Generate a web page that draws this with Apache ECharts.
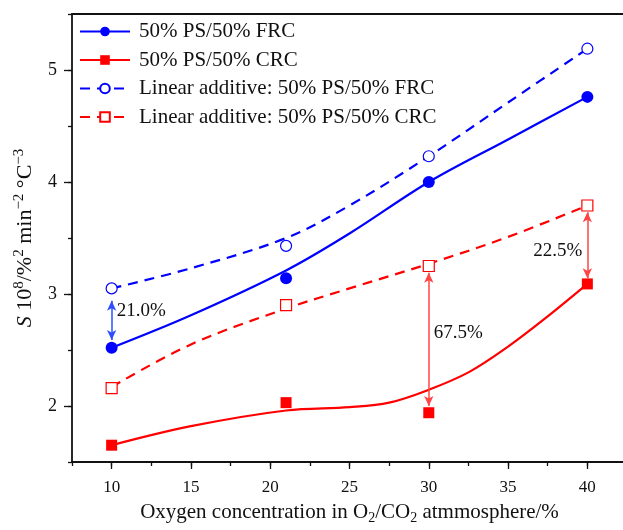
<!DOCTYPE html>
<html>
<head>
<meta charset="utf-8">
<script src="https://cdn.jsdelivr.net/npm/echarts@6/dist/echarts.min.js"></script>
<style>html,body{margin:0;padding:0;background:#fff;}#c{width:623px;height:530px;}</style>
</head>
<body>
<div id="c"></div>
<script>
// ---- data ----
const xPoints = [10, 21, 30, 40];
const frcMeasured = [2.52, 3.14, 4.00, 4.76];
const crcMeasured = [1.65, 2.03, 1.94, 3.09];
const frcLinear = [3.05, 3.43, 4.23, 5.19];
const crcLinear = [2.16, 2.90, 3.25, 3.79];

// fitted curves
const frcCurveX = [10, 15, 21, 25, 30, 35, 40];
const frcCurveY = [2.52, 2.81, 3.21, 3.54, 4.00, 4.38, 4.76];
const crcCurveX = [10, 15, 21, 25, 27.5, 30, 32.5, 35, 37.5, 40];
const crcCurveY = [1.65, 1.82, 1.96, 1.99, 2.03, 2.145, 2.30, 2.53, 2.80, 3.09];
const frcLinCurveX = [10, 15, 21, 25, 30, 35, 40];
const frcLinCurveY = [3.05, 3.23, 3.50, 3.79, 4.23, 4.71, 5.19];
const crcLinCurveX = [10, 15, 21, 25, 30, 35, 40];
const crcLinCurveY = [2.17, 2.55, 2.87, 3.05, 3.27, 3.51, 3.79];

// difference arrows: x, top y, bottom y
const arrowX = [10, 30, 40];
const arrowTop = [2.94, 3.19, 3.73];
const arrowBottom = [2.59, 2.00, 3.14];
const arrowColors = ['#2f4fff', '#ff4444', '#ff4444'];
const annotText = ['21.0%', '67.5%', '22.5%'];
const annotX = [10, 30, 40];
const annotY = [2.85, 2.65, 3.38];
const annotSide = ['right', 'right', 'left'];

const xLabels = [10, 15, 20, 25, 30, 35, 40];
const yLabels = [2, 3, 4, 5];

const names = ['50% PS/50% FRC', '50% PS/50% CRC', 'Linear additive: 50% PS/50% FRC', 'Linear additive: 50% PS/50% CRC'];

function zip(a, b) { return a.map((v, i) => [v, b[i]]); }

const FONT = 'Liberation Serif';
const BLUE = '#0000ff', RED = '#ff0000';

const chart = echarts.init(document.getElementById('c'), null, {renderer: 'canvas'});

const grid = {left: 72, top: 14, width: 555, height: 448, containLabel: false, outerBoundsMode: 'none'};

const series = [
  {name: names[0], type: 'line', data: zip(frcCurveX, frcCurveY), smooth: 0.35, symbol: 'circle', showSymbol: false,
   lineStyle: {color: BLUE, width: 2.2}, itemStyle: {color: BLUE}, z: 3, silent: true},
  {name: names[1], type: 'line', data: zip(crcCurveX, crcCurveY), smooth: 0.35, symbol: 'rect', showSymbol: false,
   lineStyle: {color: RED, width: 2.2}, itemStyle: {color: RED}, z: 3, silent: true},
  {name: names[2], type: 'line', data: zip(frcLinCurveX, frcLinCurveY), smooth: 0.35, symbol: 'circle', showSymbol: false,
   lineStyle: {color: BLUE, width: 2.2, type: [10, 7]}, itemStyle: {color: '#fff', borderColor: BLUE, borderWidth: 1.2}, z: 3, silent: true},
  {name: names[3], type: 'line', data: zip(crcLinCurveX, crcLinCurveY), smooth: 0.35, symbol: 'rect', showSymbol: false,
   lineStyle: {color: RED, width: 2.2, type: [10, 7]}, itemStyle: {color: '#fff', borderColor: RED, borderWidth: 1.2}, z: 3, silent: true},
  {name: names[0], type: 'scatter', data: zip(xPoints, frcMeasured), symbol: 'circle', symbolSize: 12,
   itemStyle: {color: BLUE, opacity: 1}, z: 5},
  {name: names[1], type: 'scatter', data: zip(xPoints, crcMeasured), symbol: 'rect', symbolSize: 11,
   itemStyle: {color: RED, opacity: 1}, z: 5},
  {name: names[2], type: 'scatter', data: zip(xPoints, frcLinear), symbol: 'circle', symbolSize: 11,
   itemStyle: {color: '#fff', borderColor: BLUE, borderWidth: 1.2, opacity: 1}, z: 5},
  {name: names[3], type: 'scatter', data: zip(xPoints, crcLinear), symbol: 'rect', symbolSize: 11,
   itemStyle: {color: '#fff', borderColor: RED, borderWidth: 1.2, opacity: 1}, z: 5},
  {name: 'arrows', type: 'line', data: [], z: 4,
   markLine: {
     silent: true, symbol: ['arrow', 'arrow'], symbolSize: [7, 10], animation: false,
     label: {show: false},
     data: arrowX.map((x, i) => [
       {coord: [x, arrowTop[i]], lineStyle: {color: arrowColors[i], width: 1.5, type: 'solid'}, itemStyle: {color: arrowColors[i]}},
       {coord: [x, arrowBottom[i]]}
     ])
   }},
  {name: 'annot', type: 'scatter', symbolSize: 0, z: 6, silent: true, itemStyle: {opacity: 1},
   data: annotX.map((x, i) => ({value: [x, annotY[i]], label: {show: true, position: annotSide[i], distance: 5,
     formatter: annotText[i], color: '#111', fontFamily: FONT, fontSize: 19}}))}
];

const option = {
  animation: false,
  backgroundColor: '#fff',
  grid: grid,
  legend: {
    data: names.map(n => ({name: n})),
    orient: 'vertical', left: 79, top: 21, padding: 0,
    itemWidth: 50, itemHeight: 12, itemGap: 7.5,
    selectedMode: false,
    textStyle: {fontFamily: FONT, fontSize: 21, color: '#111', padding: [0, 0, 0, 4]}
  },
  xAxis: [
    {type: 'value', min: 7.5, max: 42.5, interval: 2.5, position: 'bottom',
     name: '{s|Oxygen concentration in O}{sub|2}{s|/CO}{sub|2}{s| atmmosphere/%}',
     nameLocation: 'middle', nameGap: 37,
     nameTextStyle: {fontFamily: FONT, fontSize: 21, color: '#111',
       rich: {s: {fontFamily: FONT, fontSize: 21, color: '#111', lineHeight: 26, verticalAlign: 'middle'},
              sub: {fontFamily: FONT, fontSize: 14, color: '#111', lineHeight: 26, verticalAlign: 'bottom'}}},
     axisLine: {show: true, onZero: false, lineStyle: {color: '#111', width: 1.8}},
     axisTick: {show: true, length: 4, inside: false, lineStyle: {color: '#111', width: 1.3}},
     axisLabel: {show: true, customValues: xLabels, margin: 17, fontFamily: FONT, fontSize: 17, color: '#111'},
     splitLine: {show: false}},
    {type: 'value', min: 7.5, max: 42.5, interval: 2.5, position: 'bottom', gridIndex: 0,
     axisLine: {show: false, onZero: false},
     axisTick: {show: true, customValues: xLabels, length: 7, lineStyle: {color: '#111', width: 1.3}},
     axisLabel: {show: false}, splitLine: {show: false}},
    {type: 'value', min: 7.5, max: 42.5, position: 'top',
     axisLine: {show: true, onZero: false, lineStyle: {color: '#111', width: 1.8}},
     axisTick: {show: false}, axisLabel: {show: false}, splitLine: {show: false}}
  ],
  yAxis: [
    {type: 'value', min: 1.5, max: 5.5, interval: 0.5, position: 'left',
     name: '{i|S} {s|10}{sup|8}{s|/%}{sup|2}{s| min}{sup|\u22122}{s| \u00B0C}{sup|\u22123}',
     nameLocation: 'middle', nameGap: 36, nameRotate: 90,
     nameTextStyle: {fontFamily: FONT, fontSize: 22, color: '#111',
       rich: {i: {fontFamily: FONT, fontStyle: 'italic', fontSize: 22, color: '#111', lineHeight: 24, verticalAlign: 'bottom'},
              s: {fontFamily: FONT, fontSize: 22, color: '#111', lineHeight: 24, verticalAlign: 'bottom'},
              sup: {fontFamily: FONT, fontSize: 15, color: '#111', lineHeight: 24, verticalAlign: 'top'}}},
     axisLine: {show: true, onZero: false, lineStyle: {color: '#111', width: 1.8}},
     axisTick: {show: true, length: 4, lineStyle: {color: '#111', width: 1.3}},
     axisLabel: {show: true, customValues: yLabels, margin: 15, fontFamily: FONT, fontSize: 18, color: '#111'},
     splitLine: {show: false}},
    {type: 'value', min: 1.5, max: 5.5, interval: 0.5, position: 'left',
     axisLine: {show: false, onZero: false},
     axisTick: {show: true, customValues: yLabels, length: 8, lineStyle: {color: '#111', width: 1.3}},
     axisLabel: {show: false}, splitLine: {show: false}},
    {type: 'value', min: 1.5, max: 5.5, position: 'right',
     axisLine: {show: true, onZero: false, lineStyle: {color: '#111', width: 1.8}},
     axisTick: {show: false}, axisLabel: {show: false}, splitLine: {show: false}}
  ],
  series: series
};

chart.setOption(option);
</script>
</body>
</html>
